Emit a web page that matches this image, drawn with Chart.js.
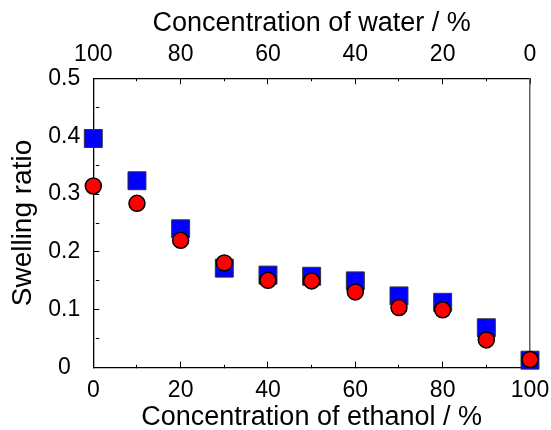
<!DOCTYPE html>
<html>
<head>
<meta charset="utf-8">
<script src="https://cdn.jsdelivr.net/npm/chart.js@4/dist/chart.umd.min.js"></script>
<style>
  html, body { margin: 0; padding: 0; background: #ffffff; }
  #c { display: block; }
</style>
</head>
<body>
<canvas id="c" width="551" height="430"></canvas>
<script>
// ---- data ----
const ethanolPct = [0, 10, 20, 30, 40, 50, 60, 70, 80, 90, 100];
const squareRatio = [0.396, 0.323, 0.240, 0.172, 0.160, 0.158, 0.150, 0.124, 0.113, 0.069, 0.013];
const circleRatio = [0.314, 0.284, 0.220, 0.181, 0.151, 0.150, 0.131, 0.104, 0.100, 0.048, 0.014];
const xTickLabels = ['0', '20', '40', '60', '80', '100'];
const waterTickLabels = ['100', '80', '60', '40', '20', '0'];
const yTickLabels = ['0', '0.1', '0.2', '0.3', '0.4', '0.5'];
const xTitle = 'Concentration of ethanol / %';
const topTitle = 'Concentration of water / %';
const yTitle = 'Swelling ratio';

const FONT = "'Liberation Sans', Arial, Helvetica, sans-serif";
const TICK_LEN = 6;

function isMajor(v, step) {
  const q = v / step;
  return Math.abs(q - Math.round(q)) < 1e-6;
}

function gridFor(step, reverseDash) {
  return {
    display: true,
    drawOnChartArea: false,
    drawTicks: true,
    tickLength: -TICK_LEN,
    tickColor: '#000',
    tickWidth: 1,
    tickBorderDash: (ctx) => {
      const v = ctx.tick ? ctx.tick.value : 0;
      if (isMajor(v, step)) return [];
      return reverseDash ? [0, 3, 3.5, 30] : [3.5, 30];
    }
  };
}

function fixHoriz(h) {
  return (s) => { s.height = h; s.paddingLeft = 0; s.paddingRight = 0; };
}

const circlePts = ethanolPct.map((x, i) => ({ x: x, y: circleRatio[i] }));
const squarePts = ethanolPct.map((x, i) => ({ x: x, y: squareRatio[i] }));

new Chart(document.getElementById('c'), {
  type: 'scatter',
  data: {
    datasets: [
      {
        label: 'circle',
        data: circlePts,
        pointStyle: 'circle',
        pointRadius: 8,
        pointBackgroundColor: '#ff0000',
        pointBorderColor: '#000000',
        pointBorderWidth: 1.5,
        clip: false
      },
      {
        label: 'square',
        data: squarePts,
        pointStyle: 'rect',
        pointRadius: 12.7,
        pointBackgroundColor: '#0000ff',
        pointBorderColor: '#333333',
        pointBorderWidth: 1,
        clip: false
      }
    ]
  },
  options: {
    responsive: false,
    animation: false,
    devicePixelRatio: 1,
    layout: { padding: 0 },
    plugins: { legend: { display: false }, tooltip: { enabled: false } },
    scales: {
      x: {
        type: 'linear', position: 'bottom', min: 0, max: 100,
        afterFit: fixHoriz(430 - 367.7),
        border: { display: true, color: '#000', width: 1.3 },
        grid: gridFor(20, false),
        ticks: {
          stepSize: 10, padding: 15, color: '#000',
          font: { family: FONT, size: 23 }, maxRotation: 0, autoSkip: false,
          callback: (v) => isMajor(v, 20) ? xTickLabels[Math.round(v / 20)] : ''
        },
        title: {
          display: true, text: xTitle, color: '#000',
          font: { family: FONT, size: 27, lineHeight: 0.9 }, padding: 0
        }
      },
      x2: {
        type: 'linear', position: 'top', min: 0, max: 100, reverse: true,
        afterFit: fixHoriz(78.3),
        border: { display: true, color: '#000', width: 1.3 },
        grid: gridFor(20, true),
        ticks: {
          stepSize: 10, padding: 15.5, color: '#000',
          font: { family: FONT, size: 23 }, maxRotation: 0, autoSkip: false,
          callback: (v) => isMajor(v, 20) ? waterTickLabels[5 - Math.round(v / 20)] : ''
        },
        title: {
          display: true, text: topTitle, color: '#000',
          font: { family: FONT, size: 27 }, padding: { top: 7, bottom: 0 }
        }
      },
      y: {
        type: 'linear', position: 'left', min: 0, max: 0.5,
        afterFit: (s) => { s.width = 93.3; },
        border: { display: true, color: '#000', width: 1.3 },
        grid: gridFor(0.1, false),
        ticks: {
          stepSize: 0.05, padding: 19, color: '#000', crossAlign: 'center',
          font: { family: FONT, size: 23 }, autoSkip: false,
          callback: (v) => isMajor(v, 0.1) ? yTickLabels[Math.round(v * 10)] : ''
        },
        title: {
          display: true, text: yTitle, color: '#000',
          font: { family: FONT, size: 28 }, padding: { top: 6.5, bottom: 0 }
        }
      },
      y2: {
        type: 'linear', position: 'right', min: 0, max: 0.5,
        afterFit: (s) => { s.width = 21; },
        border: { display: true, color: '#606060', width: 1.5 },
        grid: { display: false, drawTicks: false },
        ticks: { display: false }
      }
    }
  }
});
</script>
</body>
</html>
